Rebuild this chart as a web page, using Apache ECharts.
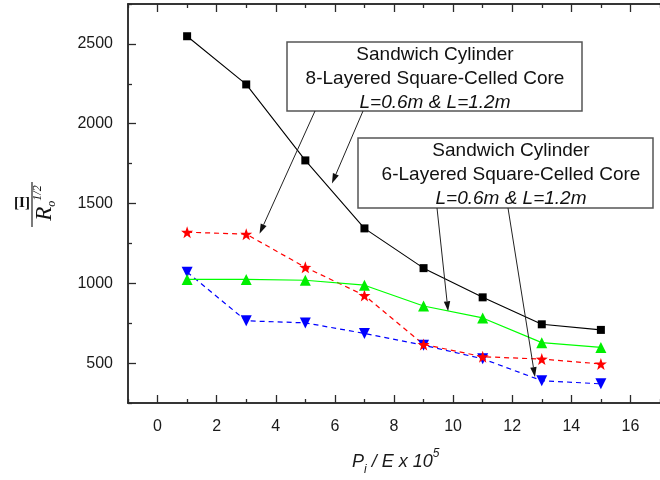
<!DOCTYPE html>
<html>
<head>
<meta charset="utf-8">
<script src="https://cdn.jsdelivr.net/npm/echarts@6/dist/echarts.min.js"></script>
<style>
  html, body { margin: 0; padding: 0; background: #fff; }
  #chart { width: 660px; height: 480px; }
</style>
</head>
<body>
<div id="chart"></div>
<script>
// x positions (Pi/E x 10^5)
const pressure = [1, 3, 5, 7, 9, 11, 13, 15]
// series values
const blackSquare = [2548, 2246, 1770, 1344, 1095, 912, 743, 708]
const greenTriangle = [1024, 1024, 1019, 988, 858, 783, 628, 598]
const redStar = [1320, 1308, 1100, 924, 617, 540, 525, 495]
const blueTriangle = [1070, 765, 752, 686, 612, 527, 390, 370]
// tick labels
const xLabels = [0, 2, 4, 6, 8, 10, 12, 14, 16]
const xMinor = [-1, 1, 3, 5, 7, 9, 11, 13, 15, 17]
const yLabels = [500, 1000, 1500, 2000, 2500]
const yMinor = [250, 750, 1250, 1750, 2250, 2750]

const FONT = 'Liberation Sans'
const chart = echarts.init(document.getElementById('chart'))

function pairs(vals) {
  return pressure.map((x, i) => [x, vals[i]])
}

function xAxisCfg(pos, ticks, len, labels) {
  return {
    type: 'value', position: pos, min: -1, max: 17, interval: 1,
    axisLine: { show: true, onZero: false, lineStyle: { color: '#2a2a2a', width: 1.5 } },
    axisTick: { show: true, inside: true, length: len, customValues: ticks, lineStyle: { color: '#2a2a2a', width: 1.3 } },
    axisLabel: labels ? {
      show: true, customValues: labels, margin: 16, fontSize: 16, color: '#1a1a1a', fontFamily: FONT,
      formatter: v => String(v)
    } : { show: false },
    splitLine: { show: false }
  }
}
function yAxisCfg(ticks, len, labels) {
  return {
    type: 'value', position: 'left', min: 250, max: 2750, interval: 250,
    axisLine: { show: true, onZero: false, lineStyle: { color: '#2a2a2a', width: 1.5 } },
    axisTick: { show: true, inside: true, length: len, customValues: ticks, lineStyle: { color: '#2a2a2a', width: 1.3 } },
    axisLabel: labels ? {
      show: true, customValues: labels, margin: 15, fontSize: 16, color: '#1a1a1a', fontFamily: FONT,
      formatter: v => String(v)
    } : { show: false },
    splitLine: { show: false }
  }
}

chart.setOption({
  animation: false,
  grid: { left: 128, top: 4, bottom: 77, right: -8 },
  xAxis: [
    xAxisCfg('bottom', xMinor, 4, xLabels),
    xAxisCfg('bottom', xLabels, 8, null),
    xAxisCfg('top', xMinor, 4, null),
    xAxisCfg('top', xLabels, 8, null)
  ],
  yAxis: [
    yAxisCfg(yMinor, 4, yLabels),
    yAxisCfg(yLabels, 8, null)
  ],
  series: [
    {
      name: '6-layered L=1.2m', type: 'line', data: pairs(blueTriangle),
      symbol: 'triangle', symbolRotate: 180, symbolSize: 11,
      lineStyle: { color: '#0000ff', width: 1.2, type: [5, 4] },
      itemStyle: { color: '#0000ff' }
    },
    {
      name: '8-layered L=1.2m', type: 'line', data: pairs(redStar),
      symbol: 'path://M0,-10 L2.35,-3.24 L9.51,-3.09 L3.8,1.24 L5.88,8.09 L0,4 L-5.88,8.09 L-3.8,1.24 L-9.51,-3.09 L-2.35,-3.24 Z',
      symbolSize: 12,
      lineStyle: { color: '#ff0000', width: 1.2, type: [5, 4] },
      itemStyle: { color: '#ff0000' }
    },
    {
      name: '6-layered L=0.6m', type: 'line', data: pairs(greenTriangle),
      symbol: 'triangle', symbolSize: 11,
      lineStyle: { color: '#00ff00', width: 1.2 },
      itemStyle: { color: '#00ee00' }
    },
    {
      name: '8-layered L=0.6m', type: 'line', data: pairs(blackSquare),
      symbol: 'rect', symbolSize: 8,
      lineStyle: { color: '#000', width: 1.1 },
      itemStyle: { color: '#000' }
    }
  ]
})

// annotation arrows: start on box edge (px), tip in data coordinates
const arrows = [
  { from: [315, 111], tip: [3.45, 1310] },
  { from: [363, 111], tip: [5.9, 1625] },
  { from: [437, 208], tip: [9.83, 825] },
  { from: [508, 208], tip: [12.77, 412] }
]

const graphics = []
arrows.forEach(a => {
  const t = chart.convertToPixel({ xAxisIndex: 0, yAxisIndex: 0 }, a.tip)
  const dx = t[0] - a.from[0], dy = t[1] - a.from[1]
  const len = Math.sqrt(dx * dx + dy * dy)
  const ux = dx / len, uy = dy / len
  const hl = 10, hw = 3.2
  const bx = t[0] - ux * hl, by = t[1] - uy * hl
  graphics.push({
    type: 'line', z: 100,
    shape: { x1: a.from[0], y1: a.from[1], x2: bx, y2: by },
    style: { stroke: '#222', lineWidth: 1 }
  })
  graphics.push({
    type: 'polygon', z: 100,
    shape: { points: [[t[0], t[1]], [bx - uy * hw, by + ux * hw], [bx + uy * hw, by - ux * hw]] },
    style: { fill: '#111' }
  })
})

function box(x, y, w, h, cx, lines) {
  graphics.push({
    type: 'rect', z: 90, shape: { x: x, y: y, width: w, height: h },
    style: { fill: '#fff', stroke: '#555', lineWidth: 1.5 }
  })
  lines.forEach((ln, i) => {
    graphics.push({
      type: 'text', z: 95, x: cx, y: y + 13 + i * 24,
      style: {
        text: ln, align: 'center', verticalAlign: 'middle',
        font: (i === 2 ? 'italic ' : '') + '19px "Liberation Sans"', fill: '#111'
      }
    })
  })
}
box(287, 42, 295, 69, 435, ['Sandwich Cylinder', '8-Layered Square-Celled Core', 'L=0.6m & L=1.2m'])
box(358, 138, 295, 70, 511, ['Sandwich Cylinder', '6-Layered Square-Celled Core', 'L=0.6m & L=1.2m'])

// y axis name
graphics.push({
  type: 'text', x: 22, y: 203,
  style: { text: '[I]', align: 'center', verticalAlign: 'middle', font: 'bold 15px "Liberation Serif"', fill: '#111' }
})
graphics.push({
  type: 'line', shape: { x1: 32, y1: 182, x2: 32, y2: 227 },
  style: { stroke: '#222', lineWidth: 1.2 }
})
graphics.push({
  type: 'text', x: 45, y: 203, rotation: Math.PI / 2,
  style: {
    text: '{r|R}{o|o}{s|1/2}', align: 'center', verticalAlign: 'middle', fill: '#111',
    rich: {
      r: { font: 'italic 23px "Liberation Serif"', lineHeight: 26, verticalAlign: 'middle' },
      o: { font: 'italic 12px "Liberation Serif"', lineHeight: 10, verticalAlign: 'bottom' },
      s: { font: 'italic 12px "Liberation Serif"', lineHeight: 12, verticalAlign: 'top' }
    }
  }
})

// x axis name
graphics.push({
  type: 'text', x: 352, y: 462,
  style: {
    text: '{a|P}{b|i}{a| / E x 10}{c|5}', verticalAlign: 'middle', fill: '#1a1a1a',
    rich: {
      a: { font: 'italic 18px "Liberation Sans"', lineHeight: 28, verticalAlign: 'middle' },
      b: { font: 'italic 12px "Liberation Sans"', lineHeight: 11, verticalAlign: 'bottom' },
      c: { font: 'italic 12px "Liberation Sans"', lineHeight: 11, verticalAlign: 'top' }
    }
  }
})

chart.setOption({ graphic: graphics })
</script>
</body>
</html>
